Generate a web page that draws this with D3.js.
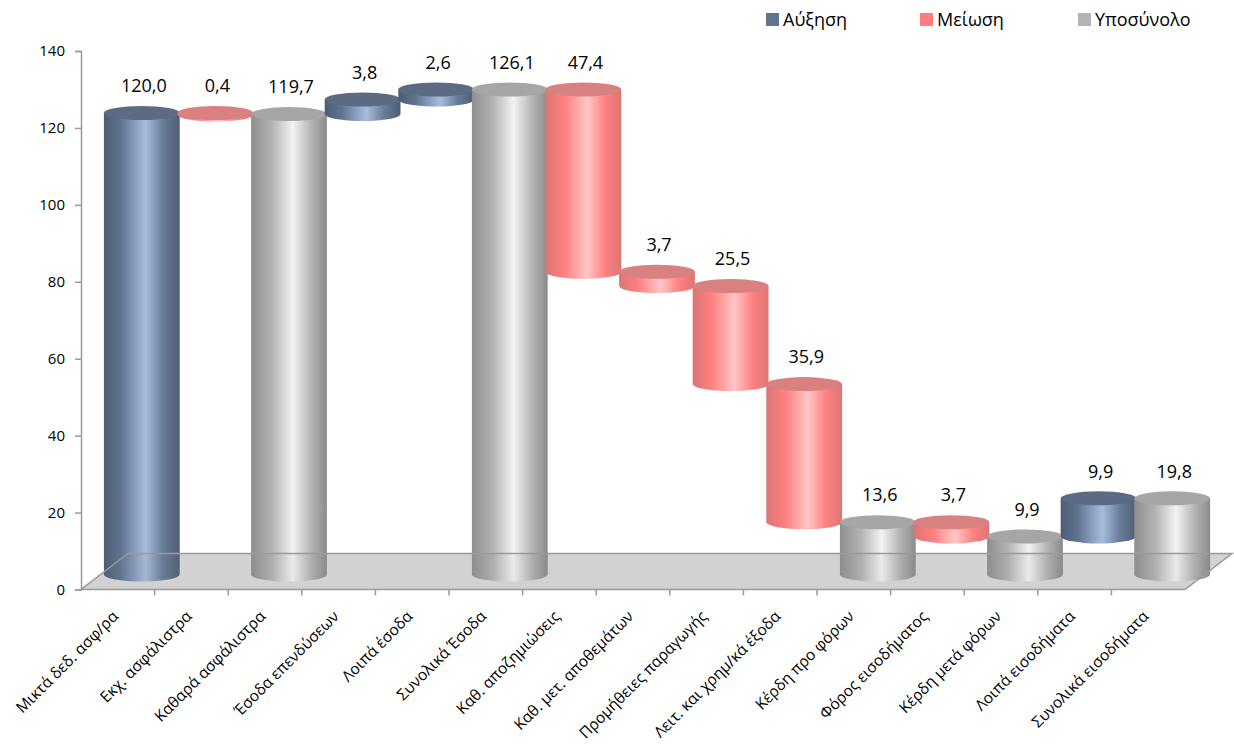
<!DOCTYPE html>
<html>
<head>
<meta charset="utf-8">
<script src="https://cdn.jsdelivr.net/npm/d3@7"></script>
<style>
  body { margin: 0; background: #fff; }
  text { font-family: "Open Sans", sans-serif; }
</style>
</head>
<body>
<div id="chart"></div>
<script>
// waterfall data
const categories = ["Μικτά δεδ. ασφ/ρα", "Εκχ. ασφάλιστρα", "Καθαρά ασφάλιστρα", "Έσοδα επενδύσεων",
  "Λοιπά έσοδα", "Συνολικά Έσοδα", "Καθ. αποζημιώσεις", "Καθ. μετ. αποθεμάτων",
  "Προμήθειες παραγωγής", "Λειτ. και χρημ/κά έξοδα", "Κέρδη προ φόρων", "Φόρος εισοδήματος",
  "Κέρδη μετά φόρων", "Λοιπά εισοδήματα", "Συνολικά εισοδήματα"];
const values = [120.0, 0.4, 119.7, 3.8, 2.6, 126.1, 47.4, 3.7, 25.5, 35.9, 13.6, 3.7, 9.9, 9.9, 19.8];
const kinds = ["inc", "dec", "sub", "inc", "inc", "sub", "dec", "dec", "dec", "dec", "sub", "dec", "sub", "inc", "sub"];
const legendKeys = ["inc", "dec", "sub"];
const legendLabels = ["Αύξηση", "Μείωση", "Υποσύνολο"];
const yTicks = [0, 20, 40, 60, 80, 100, 120, 140];

const width = 1234;
const height = 744;
const plotL = 81, plotR = 1185, plotT = 51, plotB = 589.5;
const depthX = 47, depthY = -36;   // floor depth
const barDx = 24, barDy = -15;      // where the cylinders sit inside the floor
const ry = 7;

// running totals
let run = 0;
const bars = values.map((v, i) => {
  let lo, hi;
  if (kinds[i] == "inc") { lo = run; hi = run + v; run = hi; }
  else if (kinds[i] == "dec") { hi = run; lo = run - v; run = lo; }
  else { lo = 0; hi = v; run = v; }
  return {name: categories[i], value: v, kind: kinds[i], lo: lo, hi: hi};
});

const x = d3.scaleBand().domain(categories).range([plotL, plotR]).padding(0);
const y = d3.scaleLinear().domain([0, 140]).range([plotB, plotT]);

const svg = d3.select("#chart").append("svg")
  .attr("width", width).attr("height", height);

const defs = svg.append("defs");
const grads = {
  inc: [["0", "#4d5c73"], ["0.22", "#5f7391"], ["0.55", "#a7bcdc"], ["0.78", "#687c99"], ["1", "#4e5d74"]],
  dec: [["0", "#d97676"], ["0.25", "#ff7f7f"], ["0.55", "#ffc6c6"], ["0.78", "#ff8282"], ["1", "#dc7474"]],
  sub: [["0", "#8e8e8e"], ["0.28", "#b4b4b4"], ["0.55", "#f3f3f3"], ["0.8", "#b2b2b2"], ["1", "#8b8b8b"]]
};
const topColor = {inc: "#5b6b84", dec: "#d98080", sub: "#a6a6a6"};
const legendColor = {inc: "#5f7592", dec: "#ff7c80", sub: "#b3b3b3"};

Object.keys(grads).forEach(k => {
  const g = defs.append("linearGradient").attr("id", "g-" + k)
    .attr("x1", 0).attr("x2", 1).attr("y1", 0).attr("y2", 0);
  grads[k].forEach(s => g.append("stop").attr("offset", s[0]).attr("stop-color", s[1]));
});

const floorPts = [[plotL, plotB], [plotR, plotB], [plotR + depthX, plotB + depthY], [plotL + depthX, plotB + depthY]];

// floor (solid under the bars)
svg.append("polygon")
  .attr("points", floorPts.map(p => p.join(",")).join(" "))
  .attr("fill", "#d9d9d9");

// cylinders
const r = x.bandwidth() * 0.515;
const bar = svg.append("g").selectAll("g")
  .data(bars)
  .enter().append("g");

bar.append("path")
  .attr("fill", d => "url(#g-" + d.kind + ")")
  .attr("d", d => {
    const cx = x(d.name) + x.bandwidth() / 2 + barDx;
    const yt = y(d.hi) + barDy, yb = y(d.lo) + barDy;
    return `M${cx - r},${yt} L${cx - r},${yb} A${r},${ry} 0 0 0 ${cx + r},${yb} L${cx + r},${yt} Z`;
  });

bar.append("ellipse")
  .attr("cx", d => x(d.name) + x.bandwidth() / 2 + barDx)
  .attr("cy", d => y(d.hi) + barDy)
  .attr("rx", r)
  .attr("ry", ry)
  .attr("fill", d => topColor[d.kind]);

// floor again, see-through, plus its edges on top of the bars
svg.append("polygon")
  .attr("points", floorPts.map(p => p.join(",")).join(" "))
  .attr("fill", "#7f7f7f")
  .attr("fill-opacity", 0.08)
  .attr("stroke", "#9a9a9a")
  .attr("stroke-width", 1.5);

// data labels
svg.append("g").selectAll("text")
  .data(bars)
  .enter().append("text")
  .attr("x", d => x(d.name) + x.bandwidth() / 2 + barDx + 2)
  .attr("y", d => y(d.hi) + barDy - 27)
  .attr("dy", "0.35em")
  .attr("text-anchor", "middle")
  .attr("font-size", 18)
  .attr("fill", "#000")
  .text(d => d3.format(".1f")(d.value).replace(".", ","));

// y axis
const yAxis = svg.append("g").attr("transform", `translate(${plotL},0)`)
  .call(d3.axisLeft(y).tickValues(yTicks).tickSize(6).tickPadding(10));
yAxis.select(".domain").attr("stroke", "#9a9a9a").attr("stroke-width", 1.5);
yAxis.selectAll(".tick line").attr("stroke", "#9a9a9a").attr("stroke-width", 1.5);
yAxis.selectAll(".tick text").attr("font-size", 15).attr("fill", "#000")
  .style("font-family", "'Open Sans', sans-serif");

// x ticks at category boundaries
svg.append("g").selectAll("line")
  .data(categories.slice(1))
  .enter().append("line")
  .attr("x1", d => x(d)).attr("x2", d => x(d))
  .attr("y1", plotB).attr("y2", plotB + 6)
  .attr("stroke", "#9a9a9a").attr("stroke-width", 1.5);

// category labels
svg.append("g").selectAll("text")
  .data(categories)
  .enter().append("text")
  .attr("transform", d => `translate(${x(d) + x.bandwidth() / 2 - 2.5},${plotB + 24}) rotate(-45)`)
  .attr("text-anchor", "end")
  .attr("dy", "0.35em")
  .attr("font-size", 15.5)
  .attr("fill", "#000")
  .text(d => d);

// legend
const legX = [766, 920, 1078];
const legend = svg.append("g").selectAll("g")
  .data(legendKeys)
  .enter().append("g")
  .attr("transform", (d, i) => `translate(${legX[i]},13)`);
legend.append("rect").attr("width", 13).attr("height", 13).attr("fill", d => legendColor[d]);
legend.append("text").attr("x", 17).attr("y", 7).attr("dy", "0.35em")
  .attr("font-size", 18).attr("fill", "#000")
  .text((d, i) => legendLabels[i]);
</script>
</body>
</html>
